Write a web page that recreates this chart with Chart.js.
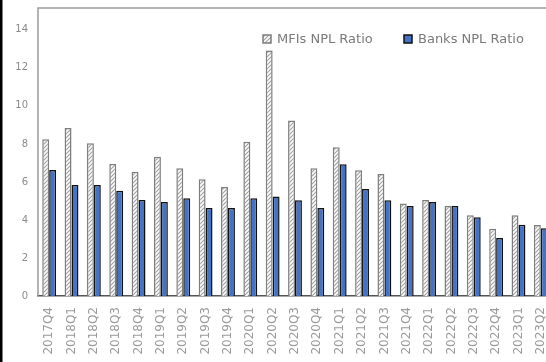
<!DOCTYPE html>
<html>
<head>
<meta charset="utf-8">
<script src="https://cdn.jsdelivr.net/npm/chart.js@4.4.1/dist/chart.umd.min.js"></script>
<style>
  html, body { margin: 0; padding: 0; background: #fff; overflow: hidden; }
  #wrap { width: 552px; height: 362px; }
</style>
</head>
<body>
<div id="wrap"><canvas id="nplChart" width="552" height="362"></canvas></div>
<script>
// Quarters on the category axis
const quarters = ['2017Q4', '2018Q1', '2018Q2', '2018Q3', '2018Q4', '2019Q1', '2019Q2', '2019Q3', '2019Q4',
  '2020Q1', '2020Q2', '2020Q3', '2020Q4', '2021Q1', '2021Q2', '2021Q3', '2021Q4',
  '2022Q1', '2022Q2', '2022Q3', '2022Q4', '2023Q1', '2023Q2'];

// NPL ratios (%)
const mfiNpl = [8.25, 8.84, 8.04, 6.95, 6.54, 7.33, 6.72, 6.14, 5.74, 8.12, 12.91, 9.23, 6.72, 7.83, 6.62, 6.42,
  4.86, 5.05, 4.74, 4.25, 3.54, 4.25, 3.74];
const banksNpl = [6.63, 5.84, 5.84, 5.54, 5.05, 4.95, 5.14, 4.63, 4.63, 5.14, 5.23, 5.04, 4.63, 6.93, 5.63, 5.04,
  4.74, 4.95, 4.74, 4.14, 3.05, 3.75, 3.56];

// Value axis ticks
const yTicks = [0, 2, 4, 6, 8, 10, 12, 14];

// striped fill for the MFI bars
function hatchPattern() {
  const c = document.createElement('canvas');
  c.width = 4; c.height = 4;
  const g = c.getContext('2d');
  g.fillStyle = '#ffffff';
  g.fillRect(0, 0, 4, 4);
  g.strokeStyle = '#a0a0a0';
  g.lineWidth = 1.2;
  g.beginPath();
  g.moveTo(-1, 5); g.lineTo(5, -1);
  g.moveTo(-1, 1); g.lineTo(1, -1);
  g.moveTo(3, 5); g.lineTo(5, 3);
  g.stroke();
  return g.createPattern(c, 'repeat');
}

const hatch = hatchPattern();

// frame, left edge line and legend
const decorations = {
  id: 'decorations',
  beforeDatasetsDraw(chart) {
    const { ctx, chartArea } = chart;
    ctx.save();
    ctx.strokeStyle = '#9c9c9c';
    ctx.lineWidth = 1.5;
    ctx.beginPath();
    ctx.moveTo(chartArea.left, chartArea.bottom);
    ctx.lineTo(chartArea.left, chartArea.top);
    ctx.lineTo(chartArea.right, chartArea.top);
    ctx.stroke();
    ctx.restore();
  },
  afterDraw(chart) {
    const { ctx } = chart;
    ctx.save();
    ctx.fillStyle = '#000';
    ctx.fillRect(0, 0, 2.5, chart.height);

    const items = [
      { x: 263, ds: chart.data.datasets[0] },
      { x: 404, ds: chart.data.datasets[1] }
    ];
    ctx.font = '13px "DejaVu Sans"';
    ctx.textBaseline = 'middle';
    items.forEach(function(it) {
      ctx.fillStyle = it.ds.backgroundColor;
      ctx.fillRect(it.x, 35, 8, 8);
      ctx.strokeStyle = it.ds.borderColor;
      ctx.lineWidth = 1.5;
      ctx.strokeRect(it.x, 35, 8, 8);
      ctx.fillStyle = '#7a7a7a';
      ctx.fillText(it.ds.label, it.x + 14, 40);
    });
    ctx.restore();
  }
};

function noPadding(scale) {
  scale.paddingTop = 0;
  scale.paddingBottom = 0;
  scale.paddingLeft = 0;
  scale.paddingRight = 0;
}

const ctx = document.getElementById('nplChart').getContext('2d');
const nplChart = new Chart(ctx, {
  type: 'bar',
  data: {
    labels: quarters,
    datasets: [{
      label: 'MFIs NPL Ratio',
      data: mfiNpl,
      backgroundColor: hatch,
      borderColor: '#7d7d7d',
      borderWidth: 1.5
    }, {
      label: 'Banks NPL Ratio',
      data: banksNpl,
      backgroundColor: '#4472c4',
      borderColor: '#111111',
      borderWidth: 1.5
    }]
  },
  options: {
    responsive: false,
    animation: false,
    layout: { padding: { top: 8, left: 0, right: 0, bottom: 0 } },
    datasets: {
      bar: { categoryPercentage: 0.62, barPercentage: 1.0 }
    },
    plugins: {
      legend: { display: false },
      tooltip: { enabled: false }
    },
    scales: {
      x: {
        grid: { display: false, drawTicks: false },
        border: { display: true, color: '#555555', width: 1.5 },
        ticks: {
          autoSkip: false,
          minRotation: 90,
          maxRotation: 90,
          padding: 11,
          color: '#9a9a9a',
          font: { family: 'DejaVu Sans', size: 12 }
        },
        afterFit(scale) { scale.height = 66; noPadding(scale); }
      },
      y: {
        min: 0,
        max: 15.15,
        grid: { display: false, drawTicks: false },
        border: { display: false },
        afterBuildTicks(scale) { scale.ticks = yTicks.map(v => ({ value: v })); },
        ticks: {
          padding: 10,
          color: '#8a8a8a',
          font: { family: 'DejaVu Sans', size: 10 }
        },
        afterFit(scale) { scale.width = 38; noPadding(scale); }
      }
    }
  },
  plugins: [decorations]
});
</script>
</body>
</html>
